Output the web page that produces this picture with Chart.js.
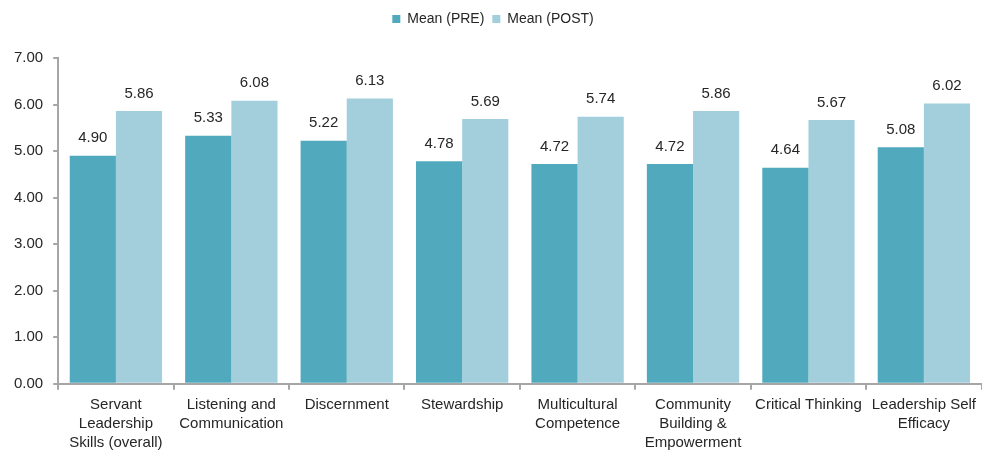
<!DOCTYPE html>
<html>
<head>
<meta charset="utf-8">
<script src="https://cdn.jsdelivr.net/npm/chart.js@4/dist/chart.umd.min.js"></script>
<style>
  html, body { margin: 0; padding: 0; background: #fff; }
  #wrap { width: 982px; height: 451px; }
</style>
</head>
<body>
<div id="wrap"><canvas id="myChart"></canvas></div>
<script>
var categories = [
    ['Servant', 'Leadership', 'Skills (overall)'],
    ['Listening and', 'Communication'],
    'Discernment',
    'Stewardship',
    ['Multicultural', 'Competence'],
    ['Community', 'Building &', 'Empowerment'],
    'Critical Thinking',
    ['Leadership Self', 'Efficacy']
];
var meanPre = [4.90, 5.33, 5.22, 4.78, 4.72, 4.72, 4.64, 5.08];
var meanPost = [5.86, 6.08, 6.13, 5.69, 5.74, 5.86, 5.67, 6.02];
var yTicks = [0, 1, 2, 3, 4, 5, 6, 7];

var fontFamily = '"Liberation Sans", Arial, sans-serif';
var axisGray = '#a6a6a6';

// draws the value above each bar
var valueLabels = {
    id: 'valueLabels',
    afterDatasetsDraw: function (chart) {
        var ctx = chart.ctx;
        ctx.save();
        ctx.font = '15px ' + fontFamily;
        ctx.fillStyle = '#262626';
        ctx.textAlign = 'center';
        ctx.textBaseline = 'bottom';
        chart.data.datasets.forEach(function (ds, i) {
            chart.getDatasetMeta(i).data.forEach(function (bar, j) {
                ctx.fillText(ds.data[j].toFixed(2), bar.x, bar.y - 10);
            });
        });
        ctx.restore();
    }
};

// more room under the legend
var legendSpace = {
    id: 'legendSpace',
    beforeInit: function (chart) {
        var fit = chart.legend.fit;
        chart.legend.fit = function () {
            fit.bind(chart.legend)();
            this.height += 22;
        };
    }
};

var ctx = document.getElementById('myChart').getContext('2d');
var chart = new Chart(ctx, {
    type: 'bar',
    data: {
        labels: categories,
        datasets: [{
            label: 'Mean (PRE)',
            data: meanPre,
            backgroundColor: '#51a9bd'
        }, {
            label: 'Mean (POST)',
            data: meanPost,
            backgroundColor: '#a3cfdd'
        }]
    },
    options: {
        responsive: true,
        maintainAspectRatio: false,
        animation: false,
        layout: { padding: { top: 4, right: 0, left: 4, bottom: -7 } },
        datasets: {
            bar: { categoryPercentage: 0.8, barPercentage: 1.0 }
        },
        plugins: {
            legend: {
                position: 'top',
                labels: {
                    boxWidth: 8,
                    boxHeight: 8,
                    padding: 8,
                    color: '#262626',
                    font: { family: fontFamily, size: 14 }
                }
            },
            tooltip: { enabled: false }
        },
        scales: {
            x: {
                grid: {
                    display: true,
                    drawOnChartArea: false,
                    offset: true,
                    color: axisGray,
                    lineWidth: 2,
                    tickLength: 6
                },
                border: { color: axisGray, width: 2 },
                ticks: {
                    color: '#262626',
                    maxRotation: 0,
                    autoSkip: false,
                    padding: 6,
                    font: { family: fontFamily, size: 15, lineHeight: 1.25 }
                }
            },
            y: {
                min: 0,
                max: 7,
                afterBuildTicks: function (axis) {
                    axis.ticks = yTicks.map(function (v) { return { value: v }; });
                },
                grid: {
                    display: true,
                    drawOnChartArea: false,
                    color: axisGray,
                    lineWidth: 2,
                    tickLength: 5
                },
                border: { color: axisGray, width: 2 },
                ticks: {
                    color: '#262626',
                    padding: 10,
                    font: { family: fontFamily, size: 15 },
                    callback: function (v) { return Number(v).toFixed(2); }
                }
            }
        }
    },
    plugins: [valueLabels, legendSpace]
});
</script>
</body>
</html>
